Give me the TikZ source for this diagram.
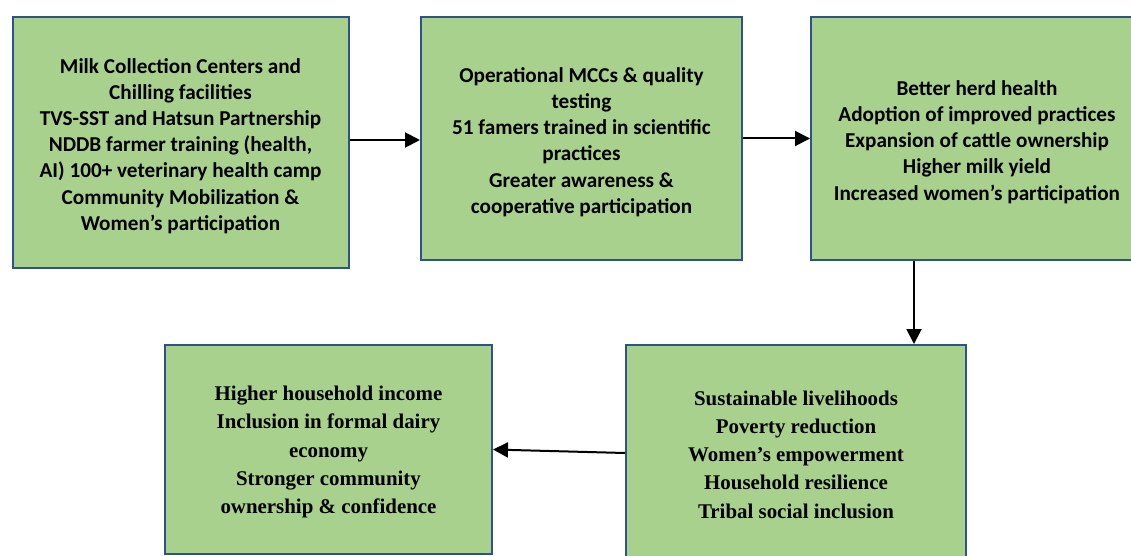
\documentclass[tikz,border=0pt]{standalone}
\usepackage{fontspec}
\newfontfamily\boxsans{Carlito}
\newfontfamily\boxserif{Liberation Serif}
\usetikzlibrary{arrows.meta}
\definecolor{boxfill}{HTML}{A9D18E}
\definecolor{boxline}{HTML}{2F528F}
\tikzset{
  stage/.style={draw=boxline, fill=boxfill, line width=2pt, rectangle, inner sep=0pt},
  sanstext/.style={align=center, inner sep=0pt, text=black,
    font=\boxsans\bfseries\fontsize{21.2}{26.2}\selectfont},
  seriftext/.style={align=center, inner sep=0pt, text=black,
    font=\boxserif\bfseries\fontsize{20.9}{28.3}\selectfont},
  arr/.style={line width=2pt, -{Triangle[length=15pt,width=15pt]}}
}
\begin{document}
\begin{tikzpicture}[x=1pt,y=-1pt]
\useasboundingbox (0,0) rectangle (1131,556);
\clip (0,0) rectangle (1131,556);
% stage boxes
\node[stage, minimum width=336pt, minimum height=251pt] (b1) at (180.5,142.5) {};
\node[stage, minimum width=321pt, minimum height=243pt] (b2) at (581.5,138.5) {};
\node[stage, minimum width=332pt, minimum height=243pt] (b3) at (977,138.5) {};
\node[stage, minimum width=340pt, minimum height=216pt] (b4) at (796,453) {};
\node[stage, minimum width=327pt, minimum height=209pt] (b5) at (328.5,449.5) {};
% box texts
\node[sanstext] (t1) at ([yshift=-3.5pt]b1.center)
  {Milk Collection Centers and\\Chilling facilities\\TVS-SST and Hatsun Partnership\\NDDB farmer training (health,\\AI) 100+ veterinary health camp\\Community Mobilization \&\\Women’s participation};
\node[sanstext] (t2) at ([yshift=-3.5pt]b2.center)
  {Operational MCCs \& quality\\testing\\51 famers trained in scientific\\practices\\Greater awareness \&\\cooperative participation};
\node[sanstext] (t3) at ([yshift=-3.5pt]b3.center)
  {Better herd health\\Adoption of improved practices\\Expansion of cattle ownership\\Higher milk yield\\Increased women’s participation};
\node[seriftext] (t4) at ([yshift=-1.5pt]b4.center)
  {Sustainable livelihoods\\Poverty reduction\\Women’s empowerment\\Household resilience\\Tribal social inclusion};
\node[seriftext] (t5) at ([yshift=-2.5pt]b5.center)
  {Higher household income\\Inclusion in formal dairy\\economy\\Stronger community\\ownership \& confidence};
% connectors
\coordinate (down) at (914,0);
\coordinate (across) at (0,140);
\draw[arr] (b1.east |- across) -- (b2.west |- across);
\draw[arr] (b2.east) -- (b3.west);
\draw[arr] (down |- b3.south) -- (down |- b4.north);
\draw[arr] (b4.west) -- (b5.east);
\end{tikzpicture}
\end{document}
